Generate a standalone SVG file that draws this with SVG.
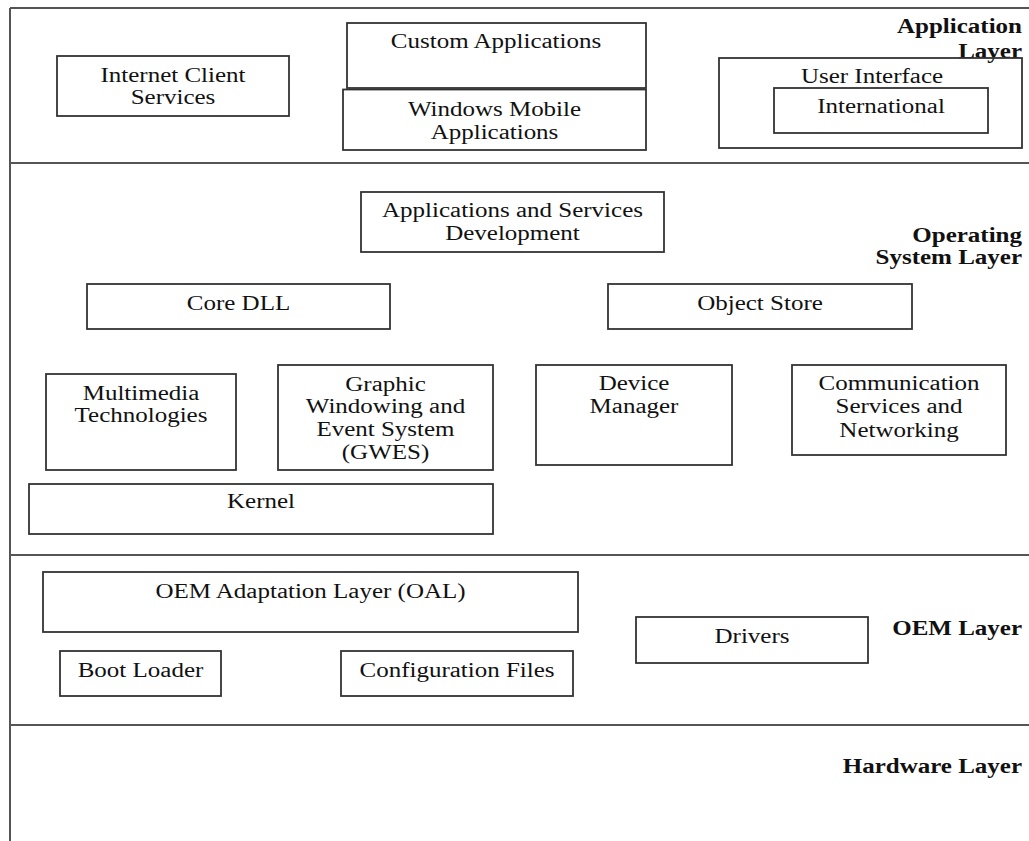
<svg xmlns="http://www.w3.org/2000/svg" width="1029" height="841" viewBox="0 0 1029 841">
<style>
.bg{fill:#ffffff}
.frame{fill:none;stroke:#555;stroke-width:2}
.box{fill:none;stroke:#333;stroke-width:1.8}
.t{font-family:"Liberation Serif","Times New Roman",serif;font-size:20px;fill:#111;text-anchor:middle}
.b{font-family:"Liberation Serif","Times New Roman",serif;font-size:20px;font-weight:bold;fill:#111;text-anchor:end}
</style>
<rect class="bg" x="0" y="0" width="1029" height="841"/>
<g id="frame">
<line class="frame" x1="10" y1="8" x2="10" y2="841"/>
<line class="frame" x1="10" y1="8" x2="1029" y2="8"/>
<line class="frame" x1="10" y1="163" x2="1029" y2="163"/>
<line class="frame" x1="10" y1="555" x2="1029" y2="555"/>
<line class="frame" x1="10" y1="725" x2="1029" y2="725"/>
</g>
<g id="layer-labels">
<text class="b" transform="translate(1022,33) scale(1.25,1)">Application</text>
<text class="b" transform="translate(1022,58) scale(1.25,1)">Layer</text>
<text class="b" transform="translate(1022,242) scale(1.25,1)">Operating</text>
<text class="b" transform="translate(1022,264) scale(1.25,1)">System Layer</text>
<text class="b" transform="translate(1022,635) scale(1.25,1)">OEM Layer</text>
<text class="b" transform="translate(1022,773) scale(1.25,1)">Hardware Layer</text>
</g>
<g id="internet-client-services">
<rect class="box" x="57" y="56" width="232" height="60"/>
<text class="t" transform="translate(173,82) scale(1.25,1)">Internet Client</text>
<text class="t" transform="translate(173,104) scale(1.25,1)">Services</text>
</g>
<g id="custom-applications">
<rect class="box" x="347" y="23" width="299" height="65"/>
<text class="t" transform="translate(496,48) scale(1.25,1)">Custom Applications</text>
</g>
<g id="windows-mobile-applications">
<rect class="box" x="343" y="89.5" width="303" height="60.5"/>
<text class="t" transform="translate(494.5,116) scale(1.25,1)">Windows Mobile</text>
<text class="t" transform="translate(494.5,139) scale(1.25,1)">Applications</text>
</g>
<g id="user-interface">
<rect class="box" x="719" y="58" width="303" height="90"/>
<text class="t" transform="translate(872,83) scale(1.25,1)">User Interface</text>
</g>
<g id="international">
<rect class="box" x="774" y="88" width="214" height="45"/>
<text class="t" transform="translate(881,113) scale(1.25,1)">International</text>
</g>
<g id="apps-services-dev">
<rect class="box" x="361" y="192" width="303" height="60"/>
<text class="t" transform="translate(512.5,217) scale(1.25,1)">Applications and Services</text>
<text class="t" transform="translate(512.5,240) scale(1.25,1)">Development</text>
</g>
<g id="core-dll">
<rect class="box" x="87" y="284" width="303" height="45"/>
<text class="t" transform="translate(238.5,310) scale(1.25,1)">Core DLL</text>
</g>
<g id="object-store">
<rect class="box" x="608" y="284" width="304" height="45"/>
<text class="t" transform="translate(760,310) scale(1.25,1)">Object Store</text>
</g>
<g id="multimedia">
<rect class="box" x="46" y="374" width="190" height="96"/>
<text class="t" transform="translate(141,400) scale(1.25,1)">Multimedia</text>
<text class="t" transform="translate(141,422) scale(1.25,1)">Technologies</text>
</g>
<g id="gwes">
<rect class="box" x="278" y="365" width="215" height="105"/>
<text class="t" transform="translate(385.5,391) scale(1.25,1)">Graphic</text>
<text class="t" transform="translate(385.5,413) scale(1.25,1)">Windowing and</text>
<text class="t" transform="translate(385.5,436) scale(1.25,1)">Event System</text>
<text class="t" transform="translate(385.5,459) scale(1.25,1)">(GWES)</text>
</g>
<g id="device-manager">
<rect class="box" x="536" y="365" width="196" height="100"/>
<text class="t" transform="translate(634,390) scale(1.25,1)">Device</text>
<text class="t" transform="translate(634,413) scale(1.25,1)">Manager</text>
</g>
<g id="communication">
<rect class="box" x="792" y="365" width="214" height="90"/>
<text class="t" transform="translate(899,390) scale(1.25,1)">Communication</text>
<text class="t" transform="translate(899,413) scale(1.25,1)">Services and</text>
<text class="t" transform="translate(899,437) scale(1.25,1)">Networking</text>
</g>
<g id="kernel">
<rect class="box" x="29" y="484" width="464" height="50"/>
<text class="t" transform="translate(261,508) scale(1.25,1)">Kernel</text>
</g>
<g id="oal">
<rect class="box" x="43" y="572" width="535" height="60"/>
<text class="t" transform="translate(310.5,598) scale(1.25,1)">OEM Adaptation Layer (OAL)</text>
</g>
<g id="drivers">
<rect class="box" x="636" y="617" width="232" height="46"/>
<text class="t" transform="translate(752,643) scale(1.25,1)">Drivers</text>
</g>
<g id="boot-loader">
<rect class="box" x="60" y="651" width="161" height="45"/>
<text class="t" transform="translate(140.5,677) scale(1.25,1)">Boot Loader</text>
</g>
<g id="configuration-files">
<rect class="box" x="341" y="651" width="232" height="45"/>
<text class="t" transform="translate(457,677) scale(1.25,1)">Configuration Files</text>
</g>
<g id="connectors"></g>
</svg>
